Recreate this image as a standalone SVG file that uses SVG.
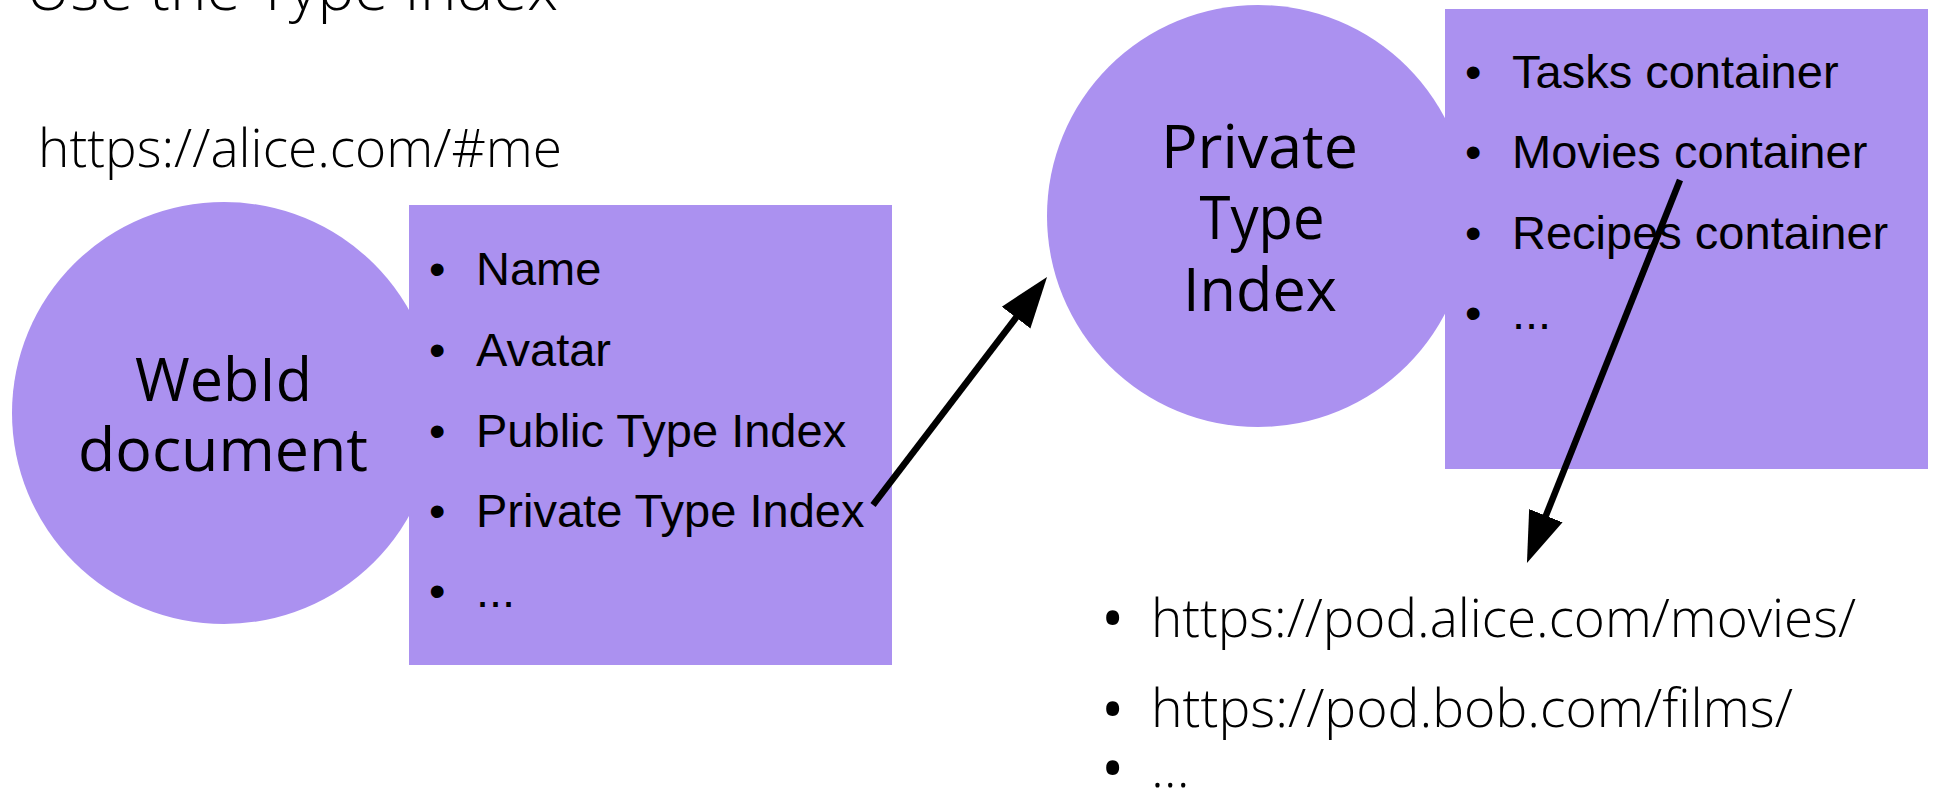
<svg xmlns="http://www.w3.org/2000/svg" width="1937" height="791" viewBox="0 0 1937 791">
  <style>
    .shape { fill: #ab91f0; stroke: none; }
    .ub { font-family: "Open Sans", "Noto Sans", "DejaVu Sans", sans-serif; fill: #000; }
    .light { font-weight: 300; }
    .node-title { font-size: 61px; text-anchor: middle; }
    .url { font-size: 54px; }
    .bul { font-size: 62px; }
    .list { font-family: "Liberation Sans", Arial, sans-serif; font-size: 47px; fill: #000; }
    .conn { stroke: #000; stroke-width: 6.5; fill: none; }
  </style>
  <defs>
    <marker id="arrow" markerUnits="userSpaceOnUse" markerWidth="52" markerHeight="38" refX="1" refY="18" orient="auto" viewBox="0 0 52 36">
      <path d="M0,0 L51,18 L0,36 Z" fill="#000"/>
    </marker>
  </defs>

  <g id="title">
    <text class="ub light" x="26" y="10" font-size="60" textLength="532" lengthAdjust="spacingAndGlyphs">Use the Type Index</text>
  </g>

  <g id="webid-url">
    <text class="ub light url" x="38" y="167" textLength="524" lengthAdjust="spacingAndGlyphs">https://alice.com/#me</text>
  </g>

  <g id="webid-document">
    <ellipse class="shape" cx="224" cy="413" rx="212" ry="211"/>
    <text class="ub node-title" x="223.5" y="401" textLength="177" lengthAdjust="spacingAndGlyphs">WebId</text>
    <text class="ub node-title" x="223" y="471" textLength="290" lengthAdjust="spacingAndGlyphs">document</text>
  </g>

  <g id="webid-properties">
    <rect class="shape" x="409" y="205" width="483" height="460"/>
    <text class="list" x="429" y="285">•</text>
    <text class="list" x="476" y="285">Name</text>
    <text class="list" x="429" y="366">•</text>
    <text class="list" x="476" y="366">Avatar</text>
    <text class="list" x="429" y="447">•</text>
    <text class="list" x="476" y="447">Public Type Index</text>
    <text class="list" x="429" y="527">•</text>
    <text class="list" x="476" y="527">Private Type Index</text>
    <text class="list" x="429" y="607">•</text>
    <text class="list" x="476" y="607">...</text>
  </g>

  <g id="private-type-index">
    <ellipse class="shape" cx="1258" cy="216" rx="211" ry="211"/>
    <text class="ub node-title" x="1259.5" y="168" textLength="197" lengthAdjust="spacingAndGlyphs">Private</text>
    <text class="ub node-title" x="1262" y="239" textLength="125" lengthAdjust="spacingAndGlyphs">Type</text>
    <text class="ub node-title" x="1260" y="311" textLength="154" lengthAdjust="spacingAndGlyphs">Index</text>
  </g>

  <g id="type-index-entries">
    <rect class="shape" x="1445" y="9" width="483" height="460"/>
    <text class="list" x="1465" y="88">•</text>
    <text class="list" x="1512" y="88">Tasks container</text>
    <text class="list" x="1465" y="168">•</text>
    <text class="list" x="1512" y="168">Movies container</text>
    <text class="list" x="1465" y="249">•</text>
    <text class="list" x="1512" y="249">Recipes container</text>
    <text class="list" x="1465" y="329">•</text>
    <text class="list" x="1512" y="329">...</text>
  </g>

  <g id="movie-locations">
    <text class="ub bul" x="1101" y="640">•</text>
    <text class="ub light url" x="1151" y="637" textLength="705" lengthAdjust="spacingAndGlyphs">https://pod.alice.com/movies/</text>
    <text class="ub bul" x="1101" y="731">•</text>
    <text class="ub light url" x="1151" y="727" textLength="642" lengthAdjust="spacingAndGlyphs">https://pod.bob.com/films/</text>
    <text class="ub bul" x="1101" y="790">•</text>
    <text class="ub light url" x="1151" y="787">...</text>
  </g>

  <g id="connectors">
    <line class="conn" x1="873" y1="505" x2="1016.7" y2="316.8" marker-end="url(#arrow)"/>
    <line class="conn" x1="1680" y1="180" x2="1545.5" y2="516.6" marker-end="url(#arrow)"/>
  </g>
</svg>
